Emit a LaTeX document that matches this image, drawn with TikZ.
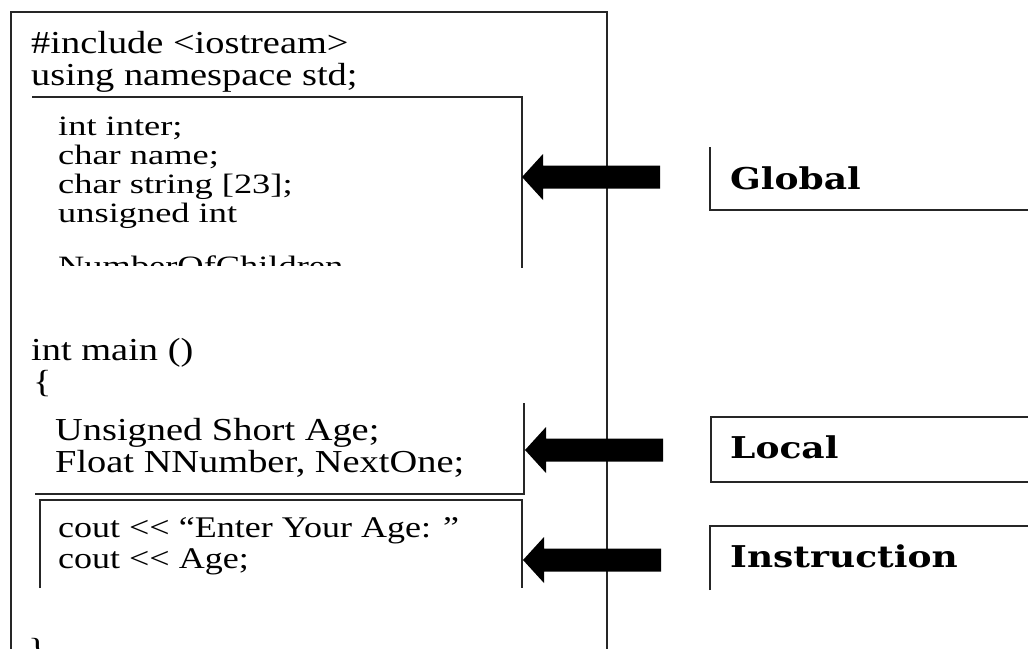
\documentclass[tikz,border=0pt]{standalone}
\usepackage{fontspec}
\newfontfamily\codefont[FakeStretch=1.2]{Liberation Serif}
\newfontfamily\innerfont[FakeStretch=1.3]{Liberation Serif}
\newfontfamily\lblfont[FakeStretch=1.2]{DejaVu Serif}
\begin{document}
\begin{tikzpicture}[x=1pt,y=-1pt,
  rule/.style={line width=1.3pt, black!85},
  code/.style={anchor=base west, inner sep=0pt, font=\codefont\fontsize{30}{30}\selectfont},
  inner/.style={anchor=base west, inner sep=0pt, font=\innerfont\fontsize{28}{28}\selectfont},
  topcode/.style={anchor=base west, inner sep=0pt, font=\codefont\fontsize{32}{32}\selectfont},
  lbl/.style={anchor=base west, inner sep=0pt, font=\lblfont\bfseries\fontsize{30}{30}\selectfont},
  fatarrow/.style={fill=black}]
\useasboundingbox (0,0) rectangle (1028,648);
\clip (0,0) rectangle (1028,648);
\fill[white] (0,0) rectangle (1028,648);

% outer box
\draw[rule] (11,12) rectangle (607,700);

% top-level lines
\node[topcode] (inc) at (31,53) {\#include <iostream>};
\node[topcode] (ns) at (31,85) {using namespace std;};

% global block
\draw[rule] (32,97) -- (522,97) -- (522,268);
\node[inner] (g1) at (58,135) {int inter;};
\node[inner] (g2) at (58,164) {char name;};
\node[inner] (g3) at (58,193) {char string [23];};
\node[inner] (g4) at (58,222) {unsigned int};
\begin{scope}
\clip (40,240) rectangle (500,265);
\node[inner] (g5) at (58,275) {NumberOfChildren};
\end{scope}

% main
\node[topcode] (mn) at (31,360) {int main ()};
\node[topcode] (ob) at (33,392) {\{};

% local block
\draw[rule] (524,403) -- (524,494) -- (35,494);
\node[topcode] (l1) at (55,440) {Unsigned Short Age;};
\node[topcode] (l2) at (55,472) {Float NNumber, NextOne;};

% instruction block
\draw[rule] (40,588) -- (40,500) -- (522,500) -- (522,588);
\node[code] (i1) at (58,537) {cout << “Enter Your Age: ”};
\node[code] (i2) at (58,568) {cout << Age;};

\node[topcode] (cb) at (28,660) {\}};

% arrows
\coordinate (gtip) at (522,177);
\coordinate (ltip) at (525,450);
\coordinate (itip) at (523,560);
\foreach \t in {gtip,ltip,itip}{
  \fill[fatarrow] (\t) -- ++(21,-23) -- ++(0,11.5) -- ++(117,0) -- ++(0,23) -- ++(-117,0) -- ++(0,11.5) -- cycle;
}

% label boxes
\draw[rule] (710,147) -- (710,210) -- (1040,210);
\node[lbl] (glob) at (730,189) {Global};
\draw[rule] (1040,417) -- (711,417) -- (711,482) -- (1040,482);
\node[lbl] (loc) at (730,458) {Local};
\draw[rule] (710,590) -- (710,526) -- (1040,526);
\node[lbl] (ins) at (730,567) {Instruction};
\end{tikzpicture}
\end{document}
